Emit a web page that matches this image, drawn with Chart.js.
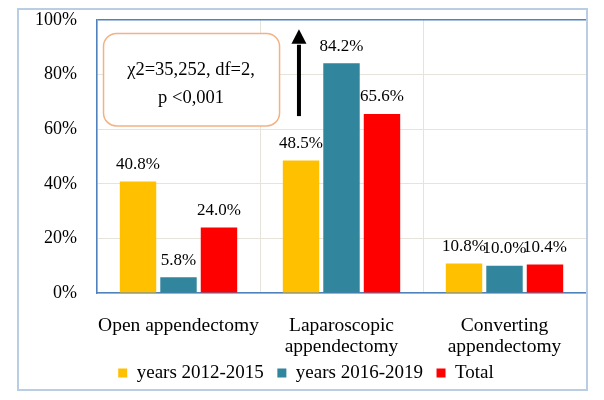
<!DOCTYPE html>
<html>
<head>
<meta charset="utf-8">
<script src="https://cdn.jsdelivr.net/npm/chart.js@4/dist/chart.umd.min.js"></script>
<style>
  html, body { margin: 0; padding: 0; background: #fff; overflow: hidden; }
  #wrap { position: relative; width: 604px; height: 400px; }
  #frame {
    position: absolute; left: 17px; top: 8px; width: 567px; height: 379px;
    border: 2px solid #B9CDE5; pointer-events: none;
  }
</style>
</head>
<body>
<div id="wrap">
  <canvas id="surgeryChart" width="604" height="400"></canvas>
  <div id="frame"></div>
</div>
<script>
// Data
const categories = [
    ['Open appendectomy'],
    ['Laparoscopic', 'appendectomy'],
    ['Converting', 'appendectomy']
];
const years2012to2015 = [40.8, 48.5, 10.8];
const years2016to2019 = [5.8, 84.2, 10.0];
const totalValues = [24.0, 65.6, 10.4];
const seriesNames = ['years 2012-2015', 'years 2016-2019', 'Total'];
const yTicks = [0, 20, 40, 60, 80, 100];

const chiText = ['\u03C72=35,252, df=2,', 'p <0,001'];

const SERIF = "'Liberation Serif', 'Times New Roman', serif";

// Value labels above each bar
const barLabels = {
    id: 'barLabels',
    afterDatasetsDraw(chart) {
        const ctx = chart.ctx;
        ctx.save();
        ctx.fillStyle = '#000';
        ctx.font = '17px ' + SERIF;
        ctx.textAlign = 'center';
        ctx.textBaseline = 'alphabetic';
        chart.data.datasets.forEach((ds, i) => {
            chart.getDatasetMeta(i).data.forEach((bar, j) => {
                ctx.fillText(ds.data[j].toFixed(1) + '%', bar.x, bar.y - 12.5);
            });
        });
        ctx.restore();
    }
};

// Chi-square note and the arrow, placed in scale units
const chiNote = {
    id: 'chiNote',
    afterDraw(chart) {
        const ctx = chart.ctx;
        const xs = chart.scales.x;
        const ys = chart.scales.y;

        const left = xs.getPixelForValue(-0.46);
        const right = xs.getPixelForValue(0.62);
        const top = ys.getPixelForValue(95.1);
        const bottom = ys.getPixelForValue(61.2);

        ctx.save();
        ctx.beginPath();
        ctx.roundRect(left, top, right - left, bottom - top, 13);
        ctx.fillStyle = '#fff';
        ctx.fill();
        ctx.lineWidth = 1.5;
        ctx.strokeStyle = '#F4B183';
        ctx.stroke();

        ctx.fillStyle = '#000';
        ctx.font = '18.5px ' + SERIF;
        ctx.textAlign = 'center';
        ctx.textBaseline = 'alphabetic';
        const cx = xs.getPixelForValue(0.077);
        ctx.fillText(chiText[0], cx, ys.getPixelForValue(79.9));
        ctx.fillText(chiText[1], cx, ys.getPixelForValue(69.6));

        // arrow
        const ax = xs.getPixelForValue(0.739);
        const tip = ys.getPixelForValue(96.6);
        const headBase = ys.getPixelForValue(91.3);
        const tail = ys.getPixelForValue(64.8);
        ctx.strokeStyle = '#000';
        ctx.lineWidth = 4;
        ctx.beginPath();
        ctx.moveTo(ax, tail);
        ctx.lineTo(ax, headBase + 1);
        ctx.stroke();
        ctx.beginPath();
        ctx.moveTo(ax, tip);
        ctx.lineTo(ax + 7.5, headBase);
        ctx.lineTo(ax - 7.5, headBase);
        ctx.closePath();
        ctx.fillStyle = '#000';
        ctx.fill();
        ctx.restore();
    }
};

const ctx = document.getElementById('surgeryChart');

new Chart(ctx, {
    type: 'bar',
    data: {
        labels: categories,
        datasets: [
            { label: seriesNames[0], data: years2012to2015, backgroundColor: '#FFC000' },
            { label: seriesNames[1], data: years2016to2019, backgroundColor: '#31859C' },
            { label: seriesNames[2], data: totalValues, backgroundColor: '#FF0000' }
        ]
    },
    options: {
        responsive: false,
        animation: false,
        devicePixelRatio: 1,
        datasets: {
            bar: {
                categoryPercentage: 0.745,
                barPercentage: 0.9,
                borderWidth: 0
            }
        },
        layout: {
            padding: { left: 26, right: 18, top: 20, bottom: 7.5 }
        },
        plugins: {
            legend: {
                position: 'bottom',
                labels: {
                    boxWidth: 9,
                    boxHeight: 9,
                    padding: 4,
                    color: '#000',
                    font: { family: SERIF, size: 19 },
                    // two trailing spaces widen the gap between items
                    generateLabels(chart) {
                        const items = Chart.defaults.plugins.legend.labels.generateLabels(chart);
                        items.forEach((it, i) => {
                            if (i < items.length - 1) it.text = it.text + '  ';
                        });
                        return items;
                    }
                }
            },
            tooltip: { enabled: false }
        },
        scales: {
            x: {
                grid: {
                    color: '#E6E3DA',
                    drawTicks: false,
                    offset: true
                },
                border: { color: '#4F81BD', width: 1.5 },
                ticks: {
                    color: '#000',
                    padding: 22,
                    maxRotation: 0,
                    autoSkip: false,
                    font: { family: SERIF, size: 19.5, lineHeight: 1.077 }
                },
                afterFit(scale) {
                    scale.height = 66.5;
                }
            },
            y: {
                min: 0,
                max: 100,
                afterBuildTicks(scale) {
                    scale.ticks = yTicks.map(v => ({ value: v }));
                },
                grid: {
                    drawTicks: false,
                    color: c => (c.tick && c.tick.value === 100) ? '#4F81BD' : '#E6E3DA',
                    lineWidth: c => (c.tick && c.tick.value === 100) ? 1.5 : 1
                },
                border: { color: '#4F81BD', width: 1.5 },
                ticks: {
                    color: '#000',
                    padding: 20,
                    font: { family: SERIF, size: 18 },
                    callback: v => v + '%'
                },
                afterFit(scale) {
                    scale.width = 71;
                    // the top label fits inside the layout padding
                    scale.paddingTop = 0;
                    scale.paddingBottom = 0;
                }
            }
        }
    },
    plugins: [barLabels, chiNote]
});
</script>
</body>
</html>
